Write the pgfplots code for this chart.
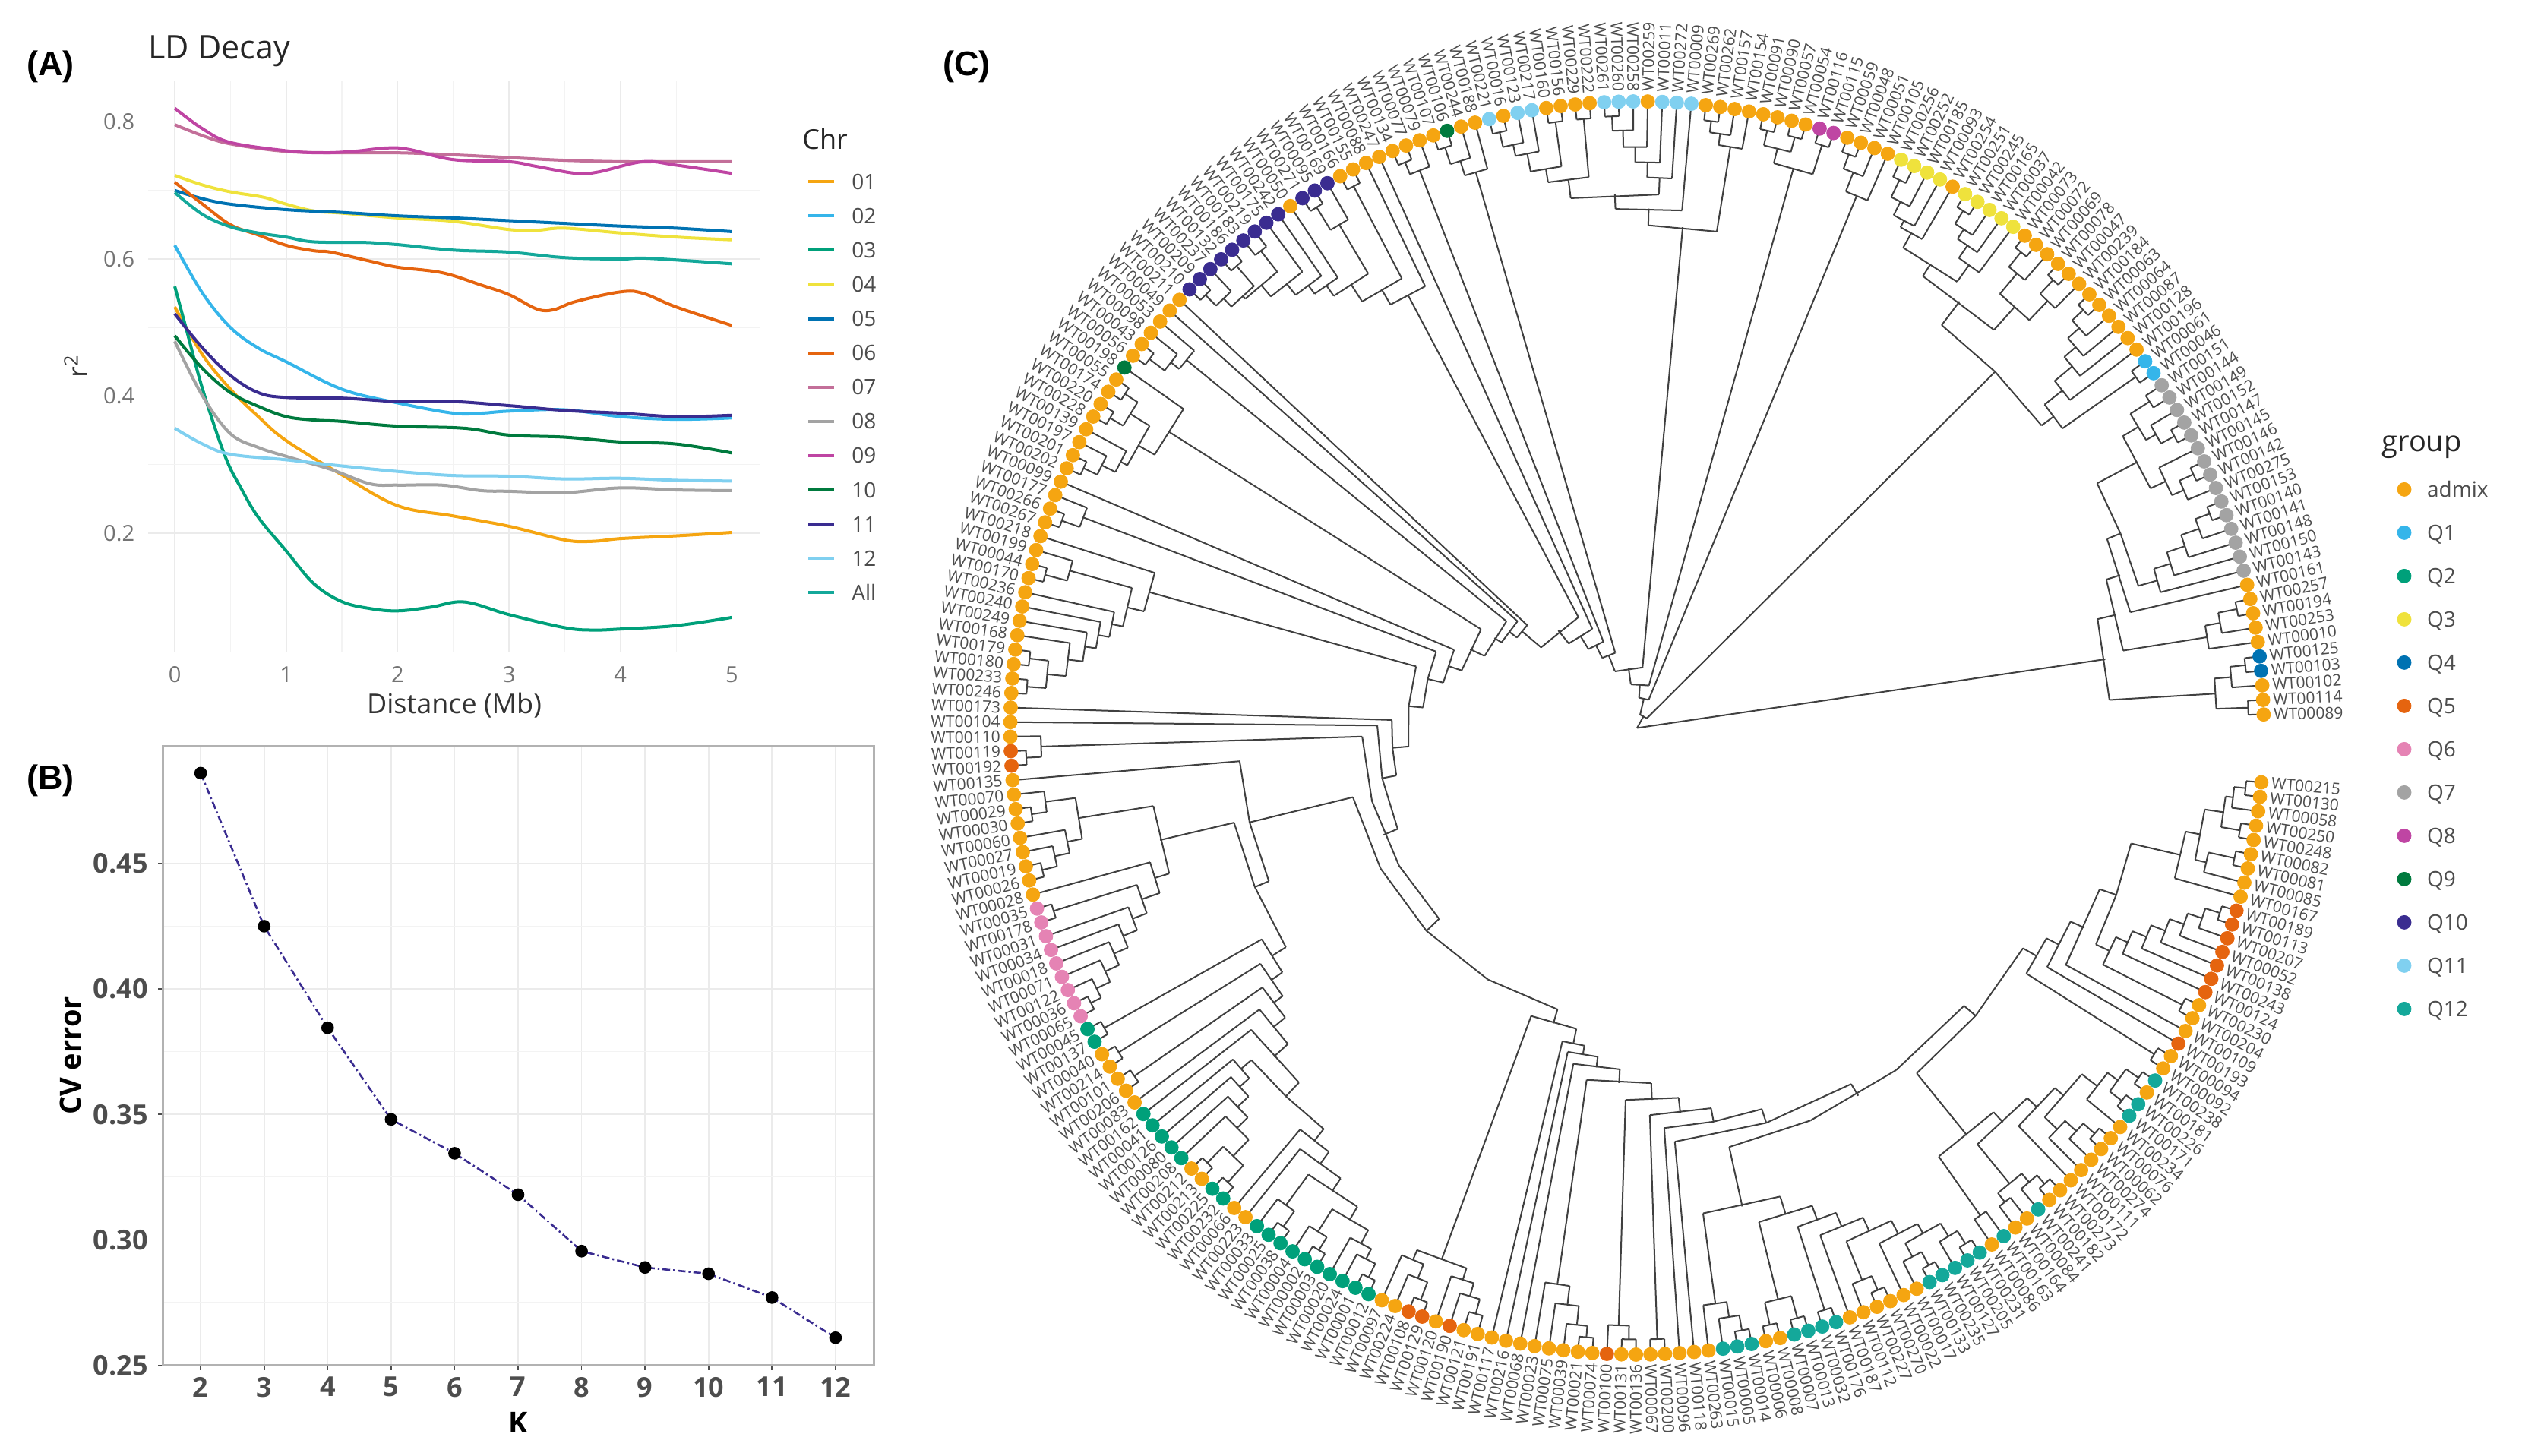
\documentclass[border=0pt]{standalone}
\usepackage{fontspec}
\setmainfont{Open Sans}
\newfontfamily\panelfont{Liberation Sans}
\usepackage{pgfplots}
\usepackage{pgfplotstable}
\pgfplotsset{compat=1.18}

\definecolor{cA}{HTML}{F5A511}
\definecolor{cQ1}{HTML}{35B5EA}
\definecolor{cQ2}{HTML}{00A07A}
\definecolor{cQ3}{HTML}{EFE23C}
\definecolor{cQ4}{HTML}{0072B2}
\definecolor{cQ5}{HTML}{E5640F}
\definecolor{cQ6}{HTML}{E583B4}
\definecolor{cQ7}{HTML}{A3A3A3}
\definecolor{cQ8}{HTML}{BF45A3}
\definecolor{cQ9}{HTML}{007A3E}
\definecolor{cQ10}{HTML}{3A2C90}
\definecolor{cQ11}{HTML}{80D0F0}
\definecolor{cQ12}{HTML}{14A89A}
\definecolor{txt}{HTML}{4D4D4D}
\definecolor{gmaj}{HTML}{EBEBEB}
\definecolor{gmin}{HTML}{F3F3F3}

% leaves in tree order, counter-clockwise from the gap
\pgfplotstableread{
name grp
089 a
114 a
102 a
103 Q4
125 Q4
010 a
253 a
194 a
257 a
161 a
143 Q7
150 Q7
148 Q7
141 Q7
140 Q7
153 Q7
275 Q7
142 Q7
146 Q7
145 Q7
147 Q7
152 Q7
149 Q7
144 Q7
151 Q7
046 Q1
061 Q1
196 a
128 a
087 a
064 a
063 a
184 a
239 a
047 a
078 a
069 a
072 a
073 a
042 Q3
037 Q3
165 Q3
245 Q3
251 Q3
254 a
093 Q3
185 Q3
252 Q3
256 Q3
105 a
051 a
048 a
059 a
115 Q8
116 Q8
054 a
057 a
090 a
091 a
154 a
157 a
262 a
269 a
009 Q11
272 Q11
011 Q11
259 a
258 Q11
260 Q11
261 Q11
222 a
229 a
156 a
160 a
217 Q11
123 Q11
016 a
221 Q11
188 a
244 a
106 Q9
107 a
079 a
077 a
134 a
247 a
088 a
155 a
166 a
169 Q10
095 Q10
271 Q10
050 a
242 Q10
175 Q10
219 Q10
183 Q10
186 Q10
132 Q10
237 Q10
209 Q10
210 Q10
211 a
049 a
053 a
098 a
043 a
056 a
198 Q9
055 a
174 a
220 a
228 a
139 a
197 a
201 a
202 a
099 a
177 a
266 a
267 a
218 a
199 a
044 a
170 a
236 a
240 a
249 a
168 a
179 a
180 a
233 a
246 a
173 a
104 a
110 a
119 Q5
192 Q5
135 a
070 a
029 a
030 a
060 a
027 a
019 a
026 a
028 a
035 Q6
178 Q6
031 Q6
034 Q6
018 Q6
071 Q6
122 Q6
036 Q6
065 Q6
045 Q2
137 Q2
040 a
214 a
101 a
206 a
083 a
162 Q2
041 Q2
126 Q2
080 Q2
208 Q2
212 a
213 a
225 Q2
232 Q2
066 a
223 a
033 Q2
025 Q2
038 Q2
004 Q2
002 Q2
003 Q2
020 Q2
024 Q2
001 Q2
012 Q2
097 a
224 a
108 Q5
129 Q5
120 a
190 Q5
121 a
191 a
117 a
216 a
068 a
023 a
075 a
039 a
021 a
074 a
100 Q5
131 a
136 a
067 a
200 a
096 a
118 a
263 a
015 Q12
005 Q12
014 Q12
006 a
008 a
007 Q12
013 Q12
032 Q12
176 Q12
187 a
112 a
227 a
270 a
022 a
017 a
133 Q12
235 Q12
127 Q12
205 Q12
231 Q12
086 a
163 Q12
164 a
084 a
241 Q12
182 a
273 a
172 a
111 a
274 a
062 a
076 a
234 a
171 Q12
226 Q12
181 a
238 Q12
092 a
094 a
193 Q5
109 a
204 a
230 a
124 Q5
243 Q5
138 Q5
052 Q5
207 Q5
113 Q5
189 Q5
167 a
085 a
081 a
082 a
248 a
250 a
058 a
130 a
215 a
}\leaves

% tree: two children (position on the ring, radius) and the radius of their arc
\pgfplotstableread{
a ra b rb R
3 825 4 825 805
2 825 3.5 805 785
0 825 1 825 805
.5 805 2.75 785 763
7 825 8 825 805
6 825 7.5 805 780
5 825 6.75 780 760
14 825 15 825 805
13 825 14.5 805 785
12 825 13.75 785 760
11 825 12.875 760 735
10 825 11.94 735 712
17 825 18 825 805
16 825 17.5 805 785
16.75 785 19 825 768
20 825 21 825 805
20.5 805 22 825 785
23 825 24 825 800
21.25 785 23.5 800 770
17.875 768 22.375 770 746
10.97 712 15.55 686 686
15.55 686 20.125 746 686
9 825 15.55 686 667
5.875 760 12.27 667 648
1.625 763 9.07 648 623
25 825 26 825 803
31 825 32 825 805
30 825 31.5 805 785
29 825 30.75 785 765
28 825 29.875 765 745
27 825 28.94 745 715
25.5 803 27.97 715 685
34 825 35 825 805
33 825 34.5 805 780
37 825 38 825 805
36 825 37.5 805 780
33.75 780 36.75 780 745
42 825 43 825 805
41 825 42.5 805 785
40 825 41.75 785 770
39 825 40.875 770 750
47 825 48 825 800
46 825 47.5 800 775
45 825 46.75 775 755
44 825 45.875 755 745
39.94 750 44.94 745 723
35.25 745 42.44 723 704
26.73 685 32.8 665 665
32.8 665 38.85 704 665
51 825 52 825 805
50 825 51.5 805 785
49 825 50.75 785 758
53 825 54 825 805
57 825 58 825 805
55 825 56 825 805
55.5 805 57.5 805 785
53.5 805 56.5 785 765
61 825 62 825 805
60 825 61.5 805 790
59 825 60.75 790 775
68 825 69 825 806
67 825 68.5 806 787
66 825 67.75 787 765
65 825 66.875 765 745
64 825 65.94 745 725
70 825 71 825 805
72 825 73 825 805
76 825 77 825 805
75 825 76.5 805 785
74 825 75.75 785 770
72.5 805 74.875 770 746
70.5 805 73.7 746 728
64.97 725 72.1 728 703
63 825 68.53 703 684
59.875 775 65.77 684 662
80 825 81 825 805
79 825 80.5 805 782
78 825 79.75 782 762
83 825 84 825 805
82 825 83.5 805 788
87 825 88 825 805
90 825 91 825 805
89 825 90.5 805 770
100 825 101 825 805
99 825 100.5 805 785
97 825 98 825 805
97.5 805 99.75 785 770
95 825 96 825 800
95.5 800 98.6 770 765
94 825 97.05 765 745
93 825 95.5 745 726
92 825 94.25 726 712
89.75 770 93.1 712 695
87.5 805 91.4 695 668
86 825 89.45 668 645
106 825 107 825 805
105 825 106.5 805 780
104 825 105.75 780 766
109 825 110 825 805
111 825 112 825 805
109.5 805 111.5 805 785
115 825 116 825 805
114 825 115.5 805 785
113 825 114.75 785 765
110.5 785 113.9 765 755
108 825 112.2 755 730
119 825 120 825 805
118 825 119.5 805 780
123 825 124 825 805
122 825 123.5 805 775
129 825 130 825 805
131 825 132 825 805
129.5 805 131.5 805 780
128 825 130.5 780 755
127 825 129.25 755 735
126 825 128.1 735 720
125 825 127.05 720 705
122.75 775 126 705 690
121 825 124.4 690 667
136 825 137 825 805
135 825 136.5 805 785
140 825 141 825 805
139 825 140.5 805 785
144 825 145 825 805
143 825 144.5 805 785
142 825 143.75 785 765
139.75 785 142.9 765 745
147 825 148 825 805
154 825 155 825 805
153 825 154.5 805 790
152 825 153.75 790 770
151 825 152.9 770 750
150 825 151.95 750 730
149 825 150.97 730 710
147.5 805 149.98 710 690
146 825 148.75 690 665
141.3 745 147.4 665 645
156 825 157 825 805
158 825 159 825 805
160 825 161 825 805
170 825 171 825 805
168 825 169 825 805
168.5 805 170.5 805 775
167 825 169.5 775 745
166 825 168.25 745 725
165 825 167.1 725 705
164 825 166.05 705 688
175 825 176 825 805
174 825 175.5 805 780
178 825 179 825 805
177 825 178.5 805 785
182 825 183 825 805
181 825 182.5 805 785
180 825 181.75 785 770
177.75 785 180.9 770 750
174.75 780 179.3 750 730
173 825 177 730 710
172 825 175 710 690
165.03 688 169.27 670 670
169.27 670 173.5 690 670
163 825 169.27 670 645
162 825 166.1 645 620
160.5 805 164.07 620 600
158.5 805 162.3 600 585
156.5 805 160.4 585 567
144.35 645 151.4 545 545
151.4 545 158.45 567 545
138 825 144.7 525 525
144.7 525 151.4 545 525
186 825 187 825 805
185 825 186.5 805 780
184 825 185.75 780 760
190 825 191 825 800
189 825 190.5 800 780
188 825 189.75 780 762
184.9 760 188.9 762 746
198 825 199 825 805
197 825 198.5 805 790
196 825 197.75 790 765
195 825 196.9 765 740
201 825 202 825 805
200 825 201.5 805 787
203 825 204 825 805
209 825 210 825 805
208 825 209.5 805 785
207 825 208.75 785 765
211 825 212 825 805
213 825 214 825 805
211.5 805 213.5 805 775
215 825 216 825 805
219 825 220 825 805
218 825 219.5 805 785
223 825 224 825 805
222 825 223.5 805 785
226 825 227 825 805
225 825 226.5 805 785
222.75 785 225.75 785 765
221 825 224.25 765 750
218.75 785 222.6 750 730
217 825 220.7 730 710
215.5 805 218.85 710 690
212.5 775 217.2 690 670
207.9 765 214.85 670 645
228 825 229 825 785
230 825 231 825 790
233 825 234 825 805
232 825 233.5 805 790
230.5 790 232.75 790 775
238 825 239 825 805
237 825 238.5 805 785
236 825 237.75 785 765
241 825 242 825 805
243 825 244 825 805
241.5 805 243.5 805 785
240 825 242.5 785 768
236.9 765 241.25 768 742
235 825 239.1 742 726
231.6 775 237.05 726 708
228.5 785 234.3 708 690
245 825 246 825 805
249 825 250 825 805
256 825 257 825 805
255 825 256.5 805 785
254 825 255.75 785 765
253 825 254.9 765 745
252 825 253.95 745 725
251 825 252.97 725 705
249.5 805 252 705 688
260 825 261 825 805
259 825 260.5 805 770
262 825 263 825 805
265 825 266 825 805
264 825 265.5 805 790
262.5 805 264.75 790 780
259.75 770 263.6 780 755
258 825 261.7 755 735
250.75 688 255.3 668 668
255.3 668 259.85 735 668
248 825 255.3 668 645
247 825 251.65 645 625
245.5 805 249.3 625 606
231.4 690 239.4 585 585
239.4 585 247.4 606 585
211.4 645 220 565 565
220 565 230 565 565
230 565 239.4 585 565
206 825 215.7 547 547
215.7 547 225.4 565 547
205 825 210.35 528 528
210.35 528 215.7 547 528
203.5 805 210.35 528 510
200.75 787 206.9 510 490
195.95 740 203.8 490 468
194 825 199.9 468 450
193 825 196.95 450 436
192 825 195 436 424
186.9 746 193.5 424 404
144.7 525 156 385 385
156 385 167.45 385 385
167.45 385 179 385 385
179 385 190.2 404 385
135.75 785 146 362 362
146 362 157 362 362
157 362 167.45 385 362
134 825 142.8 342 342
142.8 342 151.6 362 342
133 825 137.9 323 323
137.9 323 142.8 342 323
122.7 667 130.3 302 302
130.3 302 137.9 323 302
118.75 780 124.5 283 283
124.5 283 130.3 302 283
117 825 124.5 283 262
110.1 730 120.75 262 243
104.9 766 115.4 243 222
103 825 110.15 222 211
102 825 106.6 211 198
87.7 645 104.3 198 165
85 825 96 165 143
82.75 788 90.5 143 122
78.9 762 86.6 122 103
62.82 662 82.75 103 80
55 765 72.8 80 58
49.875 758 63.9 58 40
32.8 665 56.9 40 18
5.35 623 44.85 18 0
}\treetab

\newcommand{\fs}[1]{\fontsize{#1}{#1}\selectfont}
% room between a legend key and its text
\newcommand{\keygap}{\hspace{10.5pt}}
\pgfplotsset{
  ldline/.style={smooth,tension=0.6,no markers,line width=2pt},
  treeline/.style={color=black!75,line width=1pt,no markers,forget plot},
}

\begin{document}
\begin{tikzpicture}
\useasboundingbox (0,0) rectangle (1660pt,958.5pt);

% panel C, one unit is one pixel, origin at the root of the tree
\begin{axis}[
  at={(0pt,0pt)},anchor=south west,
  scale only axis,width=1660pt,height=958.5pt,
  xmin=-2155,xmax=1165,ymin=-958.5,ymax=958.5,
  axis lines=none,clip=false,
  legend style={at={(axis cs:1000.6,324.5)},anchor=north west,draw=none,fill=none,
    inner sep=0pt,row sep=18.5pt,text=txt,
    nodes={inner sep=0pt,text height=10pt,text depth=0pt,font=\fs{14}}},
  legend cell align=left,
]
\addplot[treeline,quiver={
    u=(\thisrow{R}-\thisrow{ra})*cos(1.24+1.33*\thisrow{a}),
    v=(\thisrow{R}-\thisrow{ra})*sin(1.24+1.33*\thisrow{a})}]
  table[x expr=\thisrow{ra}*cos(1.24+1.33*\thisrow{a}),
        y expr=\thisrow{ra}*sin(1.24+1.33*\thisrow{a})]{\treetab};
\addplot[treeline,quiver={
    u=(\thisrow{R}-\thisrow{rb})*cos(1.24+1.33*\thisrow{b}),
    v=(\thisrow{R}-\thisrow{rb})*sin(1.24+1.33*\thisrow{b})}]
  table[x expr=\thisrow{rb}*cos(1.24+1.33*\thisrow{b}),
        y expr=\thisrow{rb}*sin(1.24+1.33*\thisrow{b})]{\treetab};
\addplot[treeline,quiver={
    u=\thisrow{R}*(cos(1.24+1.33*\thisrow{b})-cos(1.24+1.33*\thisrow{a})),
    v=\thisrow{R}*(sin(1.24+1.33*\thisrow{b})-sin(1.24+1.33*\thisrow{a}))}]
  table[x expr=\thisrow{R}*cos(1.24+1.33*\thisrow{a}),
        y expr=\thisrow{R}*sin(1.24+1.33*\thisrow{a})]{\treetab};

\addplot[scatter,only marks,mark size=4.5pt,scatter src=explicit symbolic,
  scatter/classes={
    a={mark=*,draw=cA,fill=cA},
    Q1={mark=*,draw=cQ1,fill=cQ1},
    Q2={mark=*,draw=cQ2,fill=cQ2},
    Q3={mark=*,draw=cQ3,fill=cQ3},
    Q4={mark=*,draw=cQ4,fill=cQ4},
    Q5={mark=*,draw=cQ5,fill=cQ5},
    Q6={mark=*,draw=cQ6,fill=cQ6},
    Q7={mark=*,draw=cQ7,fill=cQ7},
    Q8={mark=*,draw=cQ8,fill=cQ8},
    Q9={mark=*,draw=cQ9,fill=cQ9},
    Q10={mark=*,draw=cQ10,fill=cQ10},
    Q11={mark=*,draw=cQ11,fill=cQ11},
    Q12={mark=*,draw=cQ12,fill=cQ12}}]
  table[x expr=825*cos(1.24+1.33*\coordindex),
        y expr=825*sin(1.24+1.33*\coordindex),meta=grp]{\leaves};
\legend{\keygap admix,\keygap Q1,\keygap Q2,\keygap Q3,\keygap Q4,\keygap Q5,\keygap Q6,\keygap Q7,\keygap Q8,\keygap Q9,\keygap Q10,\keygap Q11,\keygap Q12}

\addplot[draw=none,mark=none,forget plot,point meta=explicit symbolic,
  visualization depends on={(1.24+1.33*\coordindex>90 && 1.24+1.33*\coordindex<270) ? 1.24+1.33*\coordindex-180 : 1.24+1.33*\coordindex \as\rot},
  nodes near coords={WT00\pgfplotspointmeta},
  every node near coord/.append style={anchor=center,inner sep=0pt,rotate=\rot,font=\fs{10.5},text=txt}]
  table[x expr=884*cos(1.24+1.33*\coordindex),
        y expr=884*sin(1.24+1.33*\coordindex),meta=name]{\leaves};
\end{axis}

% panel A
\begin{axis}[
  at={(97.5pt,529pt)},anchor=south west,
  scale only axis,width=403pt,height=376.5pt,
  xmin=-0.239,xmax=5.256,ymin=0.0259,ymax=0.8605,
  xtick={0,1,2,3,4,5},ytick={0.2,0.4,0.6,0.8},
  minor xtick={0.5,1.5,2.5,3.5,4.5},minor ytick={0.1,0.3,0.5,0.7},
  grid=both,major grid style={gmaj,line width=0.9pt},minor grid style={gmin,line width=0.6pt},
  axis line style={draw=none},tick style={draw=none},
  /pgf/number format/assume math mode=true,
  tick label style={font=\fs{14.5},text=black!55,inner sep=0pt},
  xticklabel shift=9pt,yticklabel shift=8.75pt,
  xlabel={Distance (Mb)},ylabel={r\textsuperscript{2}},
  every axis x label/.style={at={(axis description cs:0.5,-0.093)},anchor=center,font=\fs{18},text=black!80},
  every axis y label/.style={at={(axis description cs:-0.118,0.5)},anchor=center,rotate=90,font=\fs{18},text=black!80},
  legend style={at={(axis description cs:1.0757,0.837)},anchor=north west,draw=none,fill=none,
    inner sep=0pt,row sep=12.55pt,text=black!70,
    nodes={inner sep=0pt,text height=10pt,text depth=0pt,font=\fs{14}}},
  legend cell align=left,
  legend image code/.code={\draw[#1,line width=2pt] (0pt,0pt) -- (17pt,0pt);},
]
\addplot[ldline,color=cA] coordinates {(0,.53)(.25,.46)(.5,.41)(.75,.37)(1,.335)(1.5,.285)(2,.24)(2.5,.225)(3,.21)(3.5,.19)(3.75,.188)(4,.192)(4.5,.196)(5,.201)};
\addlegendentry{\keygap 01}
\addplot[ldline,color=cQ1] coordinates {(0,.62)(.25,.55)(.5,.50)(.75,.47)(1,.45)(1.5,.41)(2,.39)(2.5,.375)(2.75,.375)(3,.378)(3.5,.38)(4,.37)(4.5,.366)(5,.368)};
\addlegendentry{\keygap 02}
\addplot[ldline,color=cQ2] coordinates {(0,.56)(.1,.50)(.25,.41)(.45,.313)(.6,.264)(.75,.223)(1,.174)(1.25,.126)(1.5,.10)(1.75,.09)(2,.0865)(2.3,.092)(2.6,.0995)(3,.081)(3.5,.062)(3.75,.0585)(4,.06)(4.5,.065)(5,.077)};
\addlegendentry{\keygap 03}
\addplot[ldline,color=cQ3] coordinates {(0,.722)(.25,.708)(.5,.698)(.8,.69)(1,.68)(1.25,.67)(1.5,.667)(2,.66)(2.5,.655)(3,.643)(3.25,.642)(3.5,.645)(4,.638)(4.5,.632)(5,.628)};
\addlegendentry{\keygap 04}
\addplot[ldline,color=cQ4] coordinates {(0,.70)(.25,.688)(.5,.68)(1,.672)(1.5,.668)(2,.663)(2.5,.66)(3,.656)(3.5,.652)(4,.648)(4.5,.645)(5,.64)};
\addlegendentry{\keygap 05}
\addplot[ldline,color=cQ5] coordinates {(0,.712)(.25,.68)(.5,.65)(.75,.635)(1,.62)(1.25,.612)(1.4,.61)(1.75,.597)(2,.588)(2.4,.58)(2.75,.562)(3,.548)(3.25,.527)(3.4,.526)(3.6,.538)(4,.552)(4.2,.55)(4.5,.53)(5,.503)};
\addlegendentry{\keygap 06}
\addplot[ldline,color=cQ6!85!black] coordinates {(0,.796)(.25,.78)(.5,.768)(1,.757)(1.5,.755)(2,.755)(2.5,.752)(3,.748)(3.5,.744)(4,.742)(4.5,.742)(5,.742)};
\addlegendentry{\keygap 07}
\addplot[ldline,color=cQ7] coordinates {(0,.48)(.25,.40)(.5,.345)(.75,.325)(1,.312)(1.4,.293)(1.75,.272)(2,.27)(2.4,.27)(2.75,.262)(3,.261)(3.5,.259)(4,.266)(4.5,.263)(5,.262)};
\addlegendentry{\keygap 08}
\addplot[ldline,color=cQ8] coordinates {(0,.82)(.25,.79)(.5,.77)(1,.758)(1.3,.755)(1.6,.757)(1.9,.762)(2.1,.76)(2.5,.745)(3,.742)(3.25,.735)(3.6,.725)(3.8,.727)(4.2,.742)(4.5,.737)(5,.725)};
\addlegendentry{\keygap 09}
\addplot[ldline,color=cQ9] coordinates {(0,.488)(.25,.44)(.5,.405)(.75,.385)(1,.37)(1.25,.365)(1.5,.363)(2,.356)(2.6,.353)(3,.343)(3.5,.34)(4,.333)(4.5,.33)(5,.317)};
\addlegendentry{\keygap 10}
\addplot[ldline,color=cQ10] coordinates {(0,.52)(.25,.47)(.5,.43)(.75,.405)(1,.398)(1.5,.397)(2,.392)(2.5,.392)(3,.386)(3.5,.379)(4,.375)(4.5,.37)(5,.372)};
\addlegendentry{\keygap 11}
\addplot[ldline,color=cQ11] coordinates {(0,.353)(.25,.33)(.5,.315)(1,.307)(1.5,.298)(2,.29)(2.5,.284)(3,.283)(3.5,.279)(4,.28)(4.5,.277)(5,.276)};
\addlegendentry{\keygap 12}
\addplot[ldline,color=cQ12] coordinates {(0,.697)(.25,.665)(.5,.647)(.75,.638)(1,.632)(1.25,.625)(1.75,.624)(2,.621)(2.5,.613)(3,.61)(3.5,.602)(4,.6)(4.25,.601)(5,.593)};
\addlegendentry{\keygap All}
\end{axis}

% panel B
\begin{axis}[
  at={(107pt,59.7pt)},anchor=south west,
  scale only axis,width=468pt,height=407.5pt,
  xmin=1.4,xmax=12.6,ymin=0.25,ymax=0.4967,
  xtick={2,...,12},ytick={0.25,0.30,0.35,0.40,0.45},
  minor ytick={0.275,0.325,0.375,0.425,0.475},
  grid=both,major grid style={gmaj,line width=0.9pt},minor grid style={gmin,line width=0.6pt},
  axis line style={draw=black!30,line width=1.5pt},
  tick align=outside,tick pos=left,major tick length=3pt,minor tick length=0pt,
  tick style={draw=txt,line width=0.8pt},
  /pgf/number format/assume math mode=true,
  yticklabel style={/pgf/number format/fixed,/pgf/number format/fixed zerofill,/pgf/number format/precision=2},
  tick label style={font=\fs{18}\bfseries,text=txt,inner sep=0pt},
  xticklabel shift=4.5pt,yticklabel shift=6.5pt,
  xlabel={K},ylabel={CV error},
  every axis x label/.style={at={(axis description cs:0.5,-0.0925)},anchor=center,font=\fs{19}\bfseries},
  every axis y label/.style={at={(axis description cs:-0.129,0.5)},anchor=center,rotate=90,font=\fs{19}\bfseries},
]
\addplot[color=cQ10,line width=1.3pt,dash pattern=on 5pt off 2pt on 1.2pt off 2pt,
  mark=*,mark size=3.5pt,mark options={solid,draw=black,fill=black}]
  coordinates {(2,.486)(3,.425)(4,.3845)(5,.348)(6,.3345)(7,.318)(8,.2955)(9,.289)(10,.2865)(11,.277)(12,.261)};
\end{axis}

\node[anchor=west,inner sep=0pt,font=\panelfont\fs{22.5}\bfseries] at (17.5pt,914.5pt) {(A)};
\node[anchor=west,inner sep=0pt,font=\panelfont\fs{22.5}\bfseries] at (17.5pt,444.5pt) {(B)};
\node[anchor=west,inner sep=0pt,font=\panelfont\fs{22.5}\bfseries] at (620.5pt,914.5pt) {(C)};
\node[anchor=west,inner sep=0pt,font=\fs{21.5},text=black!85] at (97.5pt,925pt) {LD Decay};
\node[anchor=west,inner sep=0pt,font=\fs{18},text=black!85] at (528pt,867pt) {Chr};
\node[anchor=west,inner sep=0pt,font=\fs{19},text=black!85] at (1567.5pt,664pt) {group};
\end{tikzpicture}
\end{document}
